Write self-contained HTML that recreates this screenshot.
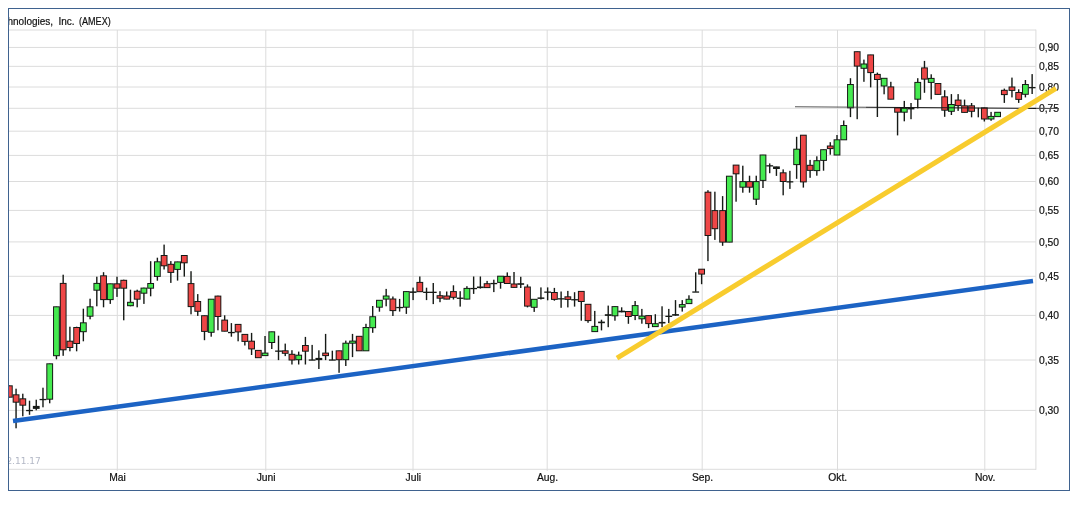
<!DOCTYPE html><html><head><meta charset="utf-8"><title>Chart</title><style>html,body{margin:0;padding:0;background:#fff}body{width:1079px;height:509px;overflow:hidden}svg{display:block}text{font-family:"Liberation Sans",Arial,sans-serif}</style></head><body>
<svg width="1079" height="509" viewBox="0 0 1079 509">
<rect x="0" y="0" width="1079" height="509" fill="#fff"/>
<rect x="8.5" y="8.5" width="1061" height="482" fill="#fff" stroke="#3f628f" stroke-width="1"/>
<path d="M9 47.45H1036M9 66.35H1036M9 87.0H1036M9 108.3H1036M9 131.2H1036M9 155.4H1036M9 181.5H1036M9 210.4H1036M9 241.9H1036M9 276.3H1036M9 315.4H1036M9 360.0H1036M9 410.4H1036M9 469.3H1036M117.3 30V471M265.8 30V471M413.0 30V471M547.2 30V471M702.2 30V471M837.5 30V471M984.8 30V471M1035.9 29.6V469.8" stroke="#dcdcdc" stroke-width="1" fill="none"/>
<path d="M9 30H1036" stroke="#dcdcdc" stroke-width="1"/>
<clipPath id="c"><rect x="9" y="9" width="1060" height="481"/></clipPath>
<text y="25" font-size="10" fill="#111" stroke="#111" stroke-width="0.2" clip-path="url(#c)"><tspan x="7.5">hnologies,</tspan> <tspan x="58.4" textLength="16.1" lengthAdjust="spacingAndGlyphs">Inc.</tspan> <tspan x="79" textLength="31.7" lengthAdjust="spacingAndGlyphs">(AMEX)</tspan></text>
<text x="6.4" y="463.8" font-size="9" style="font-family:'DejaVu Sans',Verdana,sans-serif" fill="#b3b8c6" clip-path="url(#c)">2.11.17</text>
<text x="1039" y="51.2" font-size="10.3" fill="#111" stroke="#111" stroke-width="0.2">0,90</text>
<text x="1039" y="70.0" font-size="10.3" fill="#111" stroke="#111" stroke-width="0.2">0,85</text>
<text x="1039" y="90.7" font-size="10.3" fill="#111" stroke="#111" stroke-width="0.2">0,80</text>
<text x="1039" y="112.0" font-size="10.3" fill="#111" stroke="#111" stroke-width="0.2">0,75</text>
<text x="1039" y="134.9" font-size="10.3" fill="#111" stroke="#111" stroke-width="0.2">0,70</text>
<text x="1039" y="159.1" font-size="10.3" fill="#111" stroke="#111" stroke-width="0.2">0,65</text>
<text x="1039" y="185.2" font-size="10.3" fill="#111" stroke="#111" stroke-width="0.2">0,60</text>
<text x="1039" y="214.1" font-size="10.3" fill="#111" stroke="#111" stroke-width="0.2">0,55</text>
<text x="1039" y="245.6" font-size="10.3" fill="#111" stroke="#111" stroke-width="0.2">0,50</text>
<text x="1039" y="280.0" font-size="10.3" fill="#111" stroke="#111" stroke-width="0.2">0,45</text>
<text x="1039" y="319.1" font-size="10.3" fill="#111" stroke="#111" stroke-width="0.2">0,40</text>
<text x="1039" y="363.7" font-size="10.3" fill="#111" stroke="#111" stroke-width="0.2">0,35</text>
<text x="1039" y="414.1" font-size="10.3" fill="#111" stroke="#111" stroke-width="0.2">0,30</text>
<text x="117.6" y="480.9" font-size="10.3" fill="#111" stroke="#111" stroke-width="0.2" text-anchor="middle">Mai</text>
<text x="266.1" y="480.9" font-size="10.3" fill="#111" stroke="#111" stroke-width="0.2" text-anchor="middle">Juni</text>
<text x="413.3" y="480.9" font-size="10.3" fill="#111" stroke="#111" stroke-width="0.2" text-anchor="middle">Juli</text>
<text x="547.5" y="480.9" font-size="10.3" fill="#111" stroke="#111" stroke-width="0.2" text-anchor="middle">Aug.</text>
<text x="702.5" y="480.9" font-size="10.3" fill="#111" stroke="#111" stroke-width="0.2" text-anchor="middle">Sep.</text>
<text x="837.8" y="480.9" font-size="10.3" fill="#111" stroke="#111" stroke-width="0.2" text-anchor="middle">Okt.</text>
<text x="985.0999999999999" y="480.9" font-size="10.3" fill="#111" stroke="#111" stroke-width="0.2" text-anchor="middle">Nov.</text>
<g clip-path="url(#c)"><rect x="8.64" y="385.7" width="1.4" height="11.6" fill="#161a16"/><rect x="5.94" y="385.3" width="6.8" height="12.4" fill="#161a16"/><rect x="6.94" y="386.3" width="4.8" height="10.4" fill="#ee4646"/><rect x="15.36" y="388.7" width="1.4" height="39.6" fill="#161a16"/><rect x="12.66" y="394.3" width="6.8" height="8.4" fill="#161a16"/><rect x="13.66" y="395.3" width="4.8" height="6.4" fill="#ee4646"/><rect x="22.09" y="393.7" width="1.4" height="22.6" fill="#161a16"/><rect x="19.39" y="398.3" width="6.8" height="7.4" fill="#161a16"/><rect x="20.39" y="399.3" width="4.8" height="5.4" fill="#ee4646"/><rect x="28.82" y="400.7" width="1.4" height="14.1" fill="#161a16"/><rect x="26.12" y="409.9" width="6.8" height="1.3" fill="#161a16"/><rect x="35.55" y="399.7" width="1.4" height="10.6" fill="#161a16"/><rect x="32.85" y="405.9" width="6.8" height="3.0" fill="#161a16"/><rect x="42.28" y="387.7" width="1.4" height="19.6" fill="#161a16"/><rect x="39.58" y="398.9" width="6.8" height="1.3" fill="#161a16"/><rect x="49.01" y="363.7" width="1.4" height="39.6" fill="#161a16"/><rect x="46.31" y="363.3" width="6.8" height="36.4" fill="#161a16"/><rect x="47.31" y="364.3" width="4.8" height="34.4" fill="#45ea50"/><rect x="55.74" y="306.7" width="1.4" height="52.6" fill="#161a16"/><rect x="53.04" y="306.3" width="6.8" height="49.9" fill="#161a16"/><rect x="54.04" y="307.3" width="4.8" height="47.9" fill="#45ea50"/><rect x="62.47" y="274.7" width="1.4" height="81.1" fill="#161a16"/><rect x="59.77" y="282.9" width="6.8" height="67.4" fill="#161a16"/><rect x="60.77" y="283.9" width="4.8" height="65.4" fill="#ee4646"/><rect x="69.20" y="326.7" width="1.4" height="24.6" fill="#161a16"/><rect x="66.50" y="340.7" width="6.8" height="7.3" fill="#161a16"/><rect x="67.50" y="341.7" width="4.8" height="5.3" fill="#ee4646"/><rect x="75.93" y="326.7" width="1.4" height="24.6" fill="#161a16"/><rect x="73.23" y="327.0" width="6.8" height="17.0" fill="#161a16"/><rect x="74.23" y="328.0" width="4.8" height="15.0" fill="#ee4646"/><rect x="82.65" y="308.7" width="1.4" height="32.6" fill="#161a16"/><rect x="79.95" y="322.3" width="6.8" height="9.9" fill="#161a16"/><rect x="80.95" y="323.3" width="4.8" height="7.9" fill="#45ea50"/><rect x="89.38" y="298.7" width="1.4" height="20.6" fill="#161a16"/><rect x="86.68" y="306.3" width="6.8" height="10.4" fill="#161a16"/><rect x="87.68" y="307.3" width="4.8" height="8.4" fill="#45ea50"/><rect x="96.11" y="276.7" width="1.4" height="29.6" fill="#161a16"/><rect x="93.41" y="282.9" width="6.8" height="7.8" fill="#161a16"/><rect x="94.41" y="283.9" width="4.8" height="5.8" fill="#45ea50"/><rect x="102.84" y="272.2" width="1.4" height="35.1" fill="#161a16"/><rect x="100.14" y="275.3" width="6.8" height="24.8" fill="#161a16"/><rect x="101.14" y="276.3" width="4.8" height="22.8" fill="#ee4646"/><rect x="109.57" y="283.7" width="1.4" height="20.2" fill="#161a16"/><rect x="106.87" y="283.3" width="6.8" height="16.8" fill="#161a16"/><rect x="107.87" y="284.3" width="4.8" height="14.8" fill="#45ea50"/><rect x="116.30" y="276.7" width="1.4" height="20.2" fill="#161a16"/><rect x="113.60" y="283.3" width="6.8" height="5.4" fill="#161a16"/><rect x="114.60" y="284.3" width="4.8" height="3.4" fill="#ee4646"/><rect x="123.03" y="279.7" width="1.4" height="40.6" fill="#161a16"/><rect x="120.33" y="279.8" width="6.8" height="8.9" fill="#161a16"/><rect x="121.33" y="280.8" width="4.8" height="6.9" fill="#ee4646"/><rect x="129.76" y="289.7" width="1.4" height="16.6" fill="#161a16"/><rect x="127.06" y="301.8" width="6.8" height="4.4" fill="#161a16"/><rect x="128.06" y="302.8" width="4.8" height="2.4" fill="#45ea50"/><rect x="136.49" y="289.7" width="1.4" height="17.6" fill="#161a16"/><rect x="133.79" y="290.7" width="6.8" height="9.0" fill="#161a16"/><rect x="134.79" y="291.7" width="4.8" height="7.0" fill="#ee4646"/><rect x="143.22" y="287.7" width="1.4" height="16.2" fill="#161a16"/><rect x="140.52" y="287.6" width="6.8" height="6.1" fill="#161a16"/><rect x="141.52" y="288.6" width="4.8" height="4.1" fill="#45ea50"/><rect x="149.95" y="261.2" width="1.4" height="35.1" fill="#161a16"/><rect x="147.25" y="283.0" width="6.8" height="5.7" fill="#161a16"/><rect x="148.25" y="284.0" width="4.8" height="3.7" fill="#45ea50"/><rect x="156.67" y="257.7" width="1.4" height="23.0" fill="#161a16"/><rect x="153.97" y="261.3" width="6.8" height="15.6" fill="#161a16"/><rect x="154.97" y="262.3" width="4.8" height="13.6" fill="#45ea50"/><rect x="163.40" y="244.6" width="1.4" height="24.9" fill="#161a16"/><rect x="160.70" y="255.0" width="6.8" height="11.3" fill="#161a16"/><rect x="161.70" y="256.0" width="4.8" height="9.3" fill="#ee4646"/><rect x="170.13" y="261.1" width="1.4" height="21.8" fill="#161a16"/><rect x="167.43" y="263.8" width="6.8" height="9.1" fill="#161a16"/><rect x="168.43" y="264.8" width="4.8" height="7.1" fill="#ee4646"/><rect x="176.86" y="261.7" width="1.4" height="18.9" fill="#161a16"/><rect x="174.16" y="261.4" width="6.8" height="8.5" fill="#161a16"/><rect x="175.16" y="262.4" width="4.8" height="6.5" fill="#45ea50"/><rect x="183.59" y="255.4" width="1.4" height="21.2" fill="#161a16"/><rect x="180.89" y="255.0" width="6.8" height="8.3" fill="#161a16"/><rect x="181.89" y="256.0" width="4.8" height="6.3" fill="#ee4646"/><rect x="190.32" y="271.2" width="1.4" height="43.1" fill="#161a16"/><rect x="187.62" y="283.1" width="6.8" height="24.0" fill="#161a16"/><rect x="188.62" y="284.1" width="4.8" height="22.0" fill="#ee4646"/><rect x="197.05" y="294.1" width="1.4" height="21.8" fill="#161a16"/><rect x="194.35" y="301.0" width="6.8" height="10.8" fill="#161a16"/><rect x="195.35" y="302.0" width="4.8" height="8.8" fill="#ee4646"/><rect x="203.78" y="315.6" width="1.4" height="24.6" fill="#161a16"/><rect x="201.08" y="315.2" width="6.8" height="16.7" fill="#161a16"/><rect x="202.08" y="316.2" width="4.8" height="14.7" fill="#ee4646"/><rect x="210.51" y="299.1" width="1.4" height="37.6" fill="#161a16"/><rect x="207.81" y="298.7" width="6.8" height="34.1" fill="#161a16"/><rect x="208.81" y="299.7" width="4.8" height="32.1" fill="#45ea50"/><rect x="217.24" y="295.7" width="1.4" height="34.6" fill="#161a16"/><rect x="214.53" y="295.6" width="6.8" height="21.4" fill="#161a16"/><rect x="215.53" y="296.6" width="4.8" height="19.4" fill="#ee4646"/><rect x="223.96" y="315.3" width="1.4" height="16.0" fill="#161a16"/><rect x="221.26" y="319.6" width="6.8" height="12.1" fill="#161a16"/><rect x="222.26" y="320.6" width="4.8" height="10.1" fill="#ee4646"/><rect x="230.69" y="323.1" width="1.4" height="13.6" fill="#161a16"/><rect x="227.99" y="331.9" width="6.8" height="1.3" fill="#161a16"/><rect x="237.42" y="324.3" width="1.4" height="17.0" fill="#161a16"/><rect x="234.72" y="323.9" width="6.8" height="8.5" fill="#161a16"/><rect x="235.72" y="324.9" width="4.8" height="6.5" fill="#ee4646"/><rect x="244.15" y="334.3" width="1.4" height="11.2" fill="#161a16"/><rect x="241.45" y="333.9" width="6.8" height="8.0" fill="#161a16"/><rect x="242.45" y="334.9" width="4.8" height="6.0" fill="#ee4646"/><rect x="250.88" y="332.9" width="1.4" height="22.1" fill="#161a16"/><rect x="248.18" y="340.7" width="6.8" height="8.7" fill="#161a16"/><rect x="249.18" y="341.7" width="4.8" height="6.7" fill="#ee4646"/><rect x="257.61" y="350.3" width="1.4" height="7.5" fill="#161a16"/><rect x="254.91" y="349.9" width="6.8" height="8.3" fill="#161a16"/><rect x="255.91" y="350.9" width="4.8" height="6.3" fill="#ee4646"/><rect x="264.34" y="336.0" width="1.4" height="19.7" fill="#161a16"/><rect x="261.64" y="352.6" width="6.8" height="3.5" fill="#161a16"/><rect x="262.64" y="353.6" width="4.8" height="1.5" fill="#45ea50"/><rect x="271.07" y="331.7" width="1.4" height="17.3" fill="#161a16"/><rect x="268.37" y="331.3" width="6.8" height="11.7" fill="#161a16"/><rect x="269.37" y="332.3" width="4.8" height="9.7" fill="#45ea50"/><rect x="277.80" y="335.7" width="1.4" height="24.4" fill="#161a16"/><rect x="275.10" y="350.5" width="6.8" height="1.3" fill="#161a16"/><rect x="284.53" y="343.6" width="1.4" height="12.5" fill="#161a16"/><rect x="281.83" y="350.3" width="6.8" height="3.5" fill="#161a16"/><rect x="282.83" y="351.3" width="4.8" height="1.5" fill="#ee4646"/><rect x="291.25" y="350.2" width="1.4" height="14.3" fill="#161a16"/><rect x="288.55" y="353.8" width="6.8" height="6.7" fill="#161a16"/><rect x="289.55" y="354.8" width="4.8" height="4.7" fill="#ee4646"/><rect x="297.98" y="351.6" width="1.4" height="12.9" fill="#161a16"/><rect x="295.28" y="354.7" width="6.8" height="5.5" fill="#161a16"/><rect x="296.28" y="355.7" width="4.8" height="3.5" fill="#45ea50"/><rect x="304.71" y="336.9" width="1.4" height="27.6" fill="#161a16"/><rect x="302.01" y="345.0" width="6.8" height="6.7" fill="#161a16"/><rect x="303.01" y="346.0" width="4.8" height="4.7" fill="#ee4646"/><rect x="311.44" y="344.9" width="1.4" height="15.2" fill="#161a16"/><rect x="308.74" y="359.4" width="6.8" height="1.3" fill="#161a16"/><rect x="318.17" y="350.3" width="1.4" height="18.7" fill="#161a16"/><rect x="315.47" y="357.9" width="6.8" height="2.2" fill="#161a16"/><rect x="324.90" y="333.9" width="1.4" height="26.2" fill="#161a16"/><rect x="322.20" y="352.6" width="6.8" height="3.5" fill="#161a16"/><rect x="323.20" y="353.6" width="4.8" height="1.5" fill="#ee4646"/><rect x="331.63" y="350.7" width="1.4" height="9.4" fill="#161a16"/><rect x="328.93" y="359.4" width="6.8" height="1.3" fill="#161a16"/><rect x="338.36" y="350.7" width="1.4" height="22.1" fill="#161a16"/><rect x="335.66" y="350.3" width="6.8" height="9.9" fill="#161a16"/><rect x="336.66" y="351.3" width="4.8" height="7.9" fill="#ee4646"/><rect x="345.09" y="340.6" width="1.4" height="25.4" fill="#161a16"/><rect x="342.39" y="342.7" width="6.8" height="17.5" fill="#161a16"/><rect x="343.39" y="343.7" width="4.8" height="15.5" fill="#45ea50"/><rect x="351.81" y="333.9" width="1.4" height="23.2" fill="#161a16"/><rect x="349.12" y="340.6" width="6.8" height="3.1" fill="#161a16"/><rect x="350.12" y="341.6" width="4.8" height="1.1" fill="#45ea50"/><rect x="358.54" y="336.2" width="1.4" height="14.7" fill="#161a16"/><rect x="355.84" y="335.8" width="6.8" height="15.5" fill="#161a16"/><rect x="356.84" y="336.8" width="4.8" height="13.5" fill="#ee4646"/><rect x="365.27" y="323.8" width="1.4" height="27.1" fill="#161a16"/><rect x="362.57" y="327.0" width="6.8" height="24.3" fill="#161a16"/><rect x="363.57" y="328.0" width="4.8" height="22.3" fill="#45ea50"/><rect x="372.00" y="306.0" width="1.4" height="26.8" fill="#161a16"/><rect x="369.30" y="316.2" width="6.8" height="12.0" fill="#161a16"/><rect x="370.30" y="317.2" width="4.8" height="10.0" fill="#45ea50"/><rect x="378.73" y="300.0" width="1.4" height="11.7" fill="#161a16"/><rect x="376.03" y="299.8" width="6.8" height="7.9" fill="#161a16"/><rect x="377.03" y="300.8" width="4.8" height="5.9" fill="#45ea50"/><rect x="385.46" y="288.9" width="1.4" height="17.4" fill="#161a16"/><rect x="382.76" y="295.5" width="6.8" height="4.1" fill="#161a16"/><rect x="383.76" y="296.5" width="4.8" height="2.1" fill="#45ea50"/><rect x="392.19" y="296.5" width="1.4" height="19.5" fill="#161a16"/><rect x="389.49" y="298.5" width="6.8" height="12.6" fill="#161a16"/><rect x="390.49" y="299.5" width="4.8" height="10.6" fill="#ee4646"/><rect x="398.92" y="298.9" width="1.4" height="12.7" fill="#161a16"/><rect x="396.22" y="306.9" width="6.8" height="1.3" fill="#161a16"/><rect x="405.65" y="291.5" width="1.4" height="22.4" fill="#161a16"/><rect x="402.95" y="291.1" width="6.8" height="16.6" fill="#161a16"/><rect x="403.95" y="292.1" width="4.8" height="14.6" fill="#45ea50"/><rect x="412.38" y="287.6" width="1.4" height="12.5" fill="#161a16"/><rect x="409.68" y="291.4" width="6.8" height="1.5" fill="#161a16"/><rect x="419.11" y="276.5" width="1.4" height="15.3" fill="#161a16"/><rect x="416.41" y="281.9" width="6.8" height="10.3" fill="#161a16"/><rect x="417.41" y="282.9" width="4.8" height="8.3" fill="#ee4646"/><rect x="425.83" y="287.7" width="1.4" height="12.4" fill="#161a16"/><rect x="423.13" y="291.7" width="6.8" height="1.3" fill="#161a16"/><rect x="432.56" y="283.0" width="1.4" height="21.1" fill="#161a16"/><rect x="429.86" y="291.7" width="6.8" height="1.3" fill="#161a16"/><rect x="439.29" y="291.2" width="1.4" height="11.0" fill="#161a16"/><rect x="436.59" y="295.2" width="6.8" height="3.5" fill="#161a16"/><rect x="437.59" y="296.2" width="4.8" height="1.5" fill="#ee4646"/><rect x="446.02" y="291.5" width="1.4" height="7.8" fill="#161a16"/><rect x="443.32" y="295.5" width="6.8" height="4.1" fill="#161a16"/><rect x="444.32" y="296.5" width="4.8" height="2.1" fill="#ee4646"/><rect x="452.75" y="285.3" width="1.4" height="14.2" fill="#161a16"/><rect x="450.05" y="291.1" width="6.8" height="6.7" fill="#161a16"/><rect x="451.05" y="292.1" width="4.8" height="4.7" fill="#ee4646"/><rect x="459.48" y="291.2" width="1.4" height="15.4" fill="#161a16"/><rect x="456.78" y="297.6" width="6.8" height="1.3" fill="#161a16"/><rect x="466.21" y="286.2" width="1.4" height="13.1" fill="#161a16"/><rect x="463.51" y="287.9" width="6.8" height="11.7" fill="#161a16"/><rect x="464.51" y="288.9" width="4.8" height="9.7" fill="#45ea50"/><rect x="472.94" y="276.5" width="1.4" height="17.4" fill="#161a16"/><rect x="470.24" y="287.9" width="6.8" height="1.3" fill="#161a16"/><rect x="479.67" y="276.5" width="1.4" height="12.1" fill="#161a16"/><rect x="476.97" y="286.5" width="6.8" height="1.6" fill="#161a16"/><rect x="486.40" y="280.9" width="1.4" height="6.8" fill="#161a16"/><rect x="483.70" y="283.2" width="6.8" height="4.9" fill="#161a16"/><rect x="484.70" y="284.2" width="4.8" height="2.9" fill="#ee4646"/><rect x="493.12" y="279.7" width="1.4" height="12.4" fill="#161a16"/><rect x="490.42" y="282.9" width="6.8" height="1.3" fill="#161a16"/><rect x="499.85" y="276.1" width="1.4" height="12.6" fill="#161a16"/><rect x="497.15" y="275.7" width="6.8" height="7.2" fill="#161a16"/><rect x="498.15" y="276.7" width="4.8" height="5.2" fill="#45ea50"/><rect x="506.58" y="272.4" width="1.4" height="11.2" fill="#161a16"/><rect x="503.88" y="275.9" width="6.8" height="8.1" fill="#161a16"/><rect x="504.88" y="276.9" width="4.8" height="6.1" fill="#ee4646"/><rect x="513.31" y="272.0" width="1.4" height="15.5" fill="#161a16"/><rect x="510.61" y="283.5" width="6.8" height="4.4" fill="#161a16"/><rect x="511.61" y="284.5" width="4.8" height="2.4" fill="#ee4646"/><rect x="520.04" y="276.8" width="1.4" height="11.2" fill="#161a16"/><rect x="517.34" y="283.2" width="6.8" height="1.6" fill="#161a16"/><rect x="526.77" y="284.4" width="1.4" height="23.0" fill="#161a16"/><rect x="524.07" y="286.5" width="6.8" height="20.1" fill="#161a16"/><rect x="525.07" y="287.5" width="4.8" height="18.1" fill="#ee4646"/><rect x="533.50" y="299.2" width="1.4" height="12.7" fill="#161a16"/><rect x="530.80" y="298.8" width="6.8" height="9.0" fill="#161a16"/><rect x="531.80" y="299.8" width="4.8" height="7.0" fill="#45ea50"/><rect x="540.23" y="287.4" width="1.4" height="12.1" fill="#161a16"/><rect x="537.53" y="297.4" width="6.8" height="1.5" fill="#161a16"/><rect x="546.96" y="287.4" width="1.4" height="12.9" fill="#161a16"/><rect x="544.26" y="291.5" width="6.8" height="1.3" fill="#161a16"/><rect x="553.68" y="287.9" width="1.4" height="12.8" fill="#161a16"/><rect x="550.99" y="292.0" width="6.8" height="7.9" fill="#161a16"/><rect x="551.99" y="293.0" width="4.8" height="5.9" fill="#ee4646"/><rect x="560.41" y="291.5" width="1.4" height="16.3" fill="#161a16"/><rect x="557.71" y="298.2" width="6.8" height="1.3" fill="#161a16"/><rect x="567.14" y="290.9" width="1.4" height="16.5" fill="#161a16"/><rect x="564.44" y="296.3" width="6.8" height="3.6" fill="#161a16"/><rect x="565.44" y="297.3" width="4.8" height="1.6" fill="#ee4646"/><rect x="573.87" y="292.2" width="1.4" height="14.4" fill="#161a16"/><rect x="571.17" y="299.1" width="6.8" height="1.3" fill="#161a16"/><rect x="580.60" y="291.3" width="1.4" height="29.4" fill="#161a16"/><rect x="577.90" y="290.9" width="6.8" height="11.1" fill="#161a16"/><rect x="578.90" y="291.9" width="4.8" height="9.1" fill="#ee4646"/><rect x="587.33" y="304.2" width="1.4" height="18.6" fill="#161a16"/><rect x="584.63" y="303.8" width="6.8" height="17.3" fill="#161a16"/><rect x="585.63" y="304.8" width="4.8" height="15.3" fill="#ee4646"/><rect x="594.06" y="310.9" width="1.4" height="20.8" fill="#161a16"/><rect x="591.36" y="325.9" width="6.8" height="6.2" fill="#161a16"/><rect x="592.36" y="326.9" width="4.8" height="4.2" fill="#45ea50"/><rect x="600.79" y="319.7" width="1.4" height="10.7" fill="#161a16"/><rect x="598.09" y="321.6" width="6.8" height="1.6" fill="#161a16"/><rect x="607.52" y="305.6" width="1.4" height="21.6" fill="#161a16"/><rect x="604.82" y="314.2" width="6.8" height="1.7" fill="#161a16"/><rect x="614.25" y="306.5" width="1.4" height="14.2" fill="#161a16"/><rect x="611.55" y="306.1" width="6.8" height="10.2" fill="#161a16"/><rect x="612.55" y="307.1" width="4.8" height="8.2" fill="#45ea50"/><rect x="620.97" y="307.3" width="1.4" height="5.0" fill="#161a16"/><rect x="618.27" y="310.7" width="6.8" height="1.6" fill="#161a16"/><rect x="627.70" y="311.4" width="1.4" height="12.4" fill="#161a16"/><rect x="625.00" y="311.0" width="6.8" height="6.0" fill="#161a16"/><rect x="626.00" y="312.0" width="4.8" height="4.0" fill="#ee4646"/><rect x="634.43" y="301.0" width="1.4" height="19.1" fill="#161a16"/><rect x="631.73" y="305.1" width="6.8" height="10.9" fill="#161a16"/><rect x="632.73" y="306.1" width="4.8" height="8.9" fill="#45ea50"/><rect x="641.16" y="308.9" width="1.4" height="14.8" fill="#161a16"/><rect x="638.46" y="315.6" width="6.8" height="3.7" fill="#161a16"/><rect x="639.46" y="316.6" width="4.8" height="1.7" fill="#45ea50"/><rect x="647.89" y="315.5" width="1.4" height="12.6" fill="#161a16"/><rect x="645.19" y="315.1" width="6.8" height="9.0" fill="#161a16"/><rect x="646.19" y="316.1" width="4.8" height="7.0" fill="#ee4646"/><rect x="654.62" y="314.2" width="1.4" height="12.5" fill="#161a16"/><rect x="651.92" y="323.2" width="6.8" height="3.9" fill="#161a16"/><rect x="652.92" y="324.2" width="4.8" height="1.9" fill="#45ea50"/><rect x="661.35" y="306.3" width="1.4" height="20.9" fill="#161a16"/><rect x="658.65" y="321.9" width="6.8" height="1.6" fill="#161a16"/><rect x="668.08" y="308.9" width="1.4" height="14.2" fill="#161a16"/><rect x="665.38" y="315.7" width="6.8" height="1.3" fill="#161a16"/><rect x="674.81" y="300.1" width="1.4" height="15.6" fill="#161a16"/><rect x="672.11" y="314.1" width="6.8" height="1.6" fill="#161a16"/><rect x="681.54" y="300.1" width="1.4" height="11.5" fill="#161a16"/><rect x="678.84" y="304.1" width="6.8" height="3.5" fill="#161a16"/><rect x="679.84" y="305.1" width="4.8" height="1.5" fill="#45ea50"/><rect x="688.26" y="295.3" width="1.4" height="8.4" fill="#161a16"/><rect x="685.57" y="298.8" width="6.8" height="5.3" fill="#161a16"/><rect x="686.57" y="299.8" width="4.8" height="3.3" fill="#45ea50"/><rect x="694.99" y="272.3" width="1.4" height="19.5" fill="#161a16"/><rect x="692.29" y="291.4" width="6.8" height="1.3" fill="#161a16"/><rect x="700.92" y="269.1" width="1.4" height="15.1" fill="#161a16"/><rect x="698.22" y="268.7" width="6.8" height="5.9" fill="#161a16"/><rect x="699.22" y="269.7" width="4.8" height="3.9" fill="#ee4646"/><rect x="707.25" y="190.2" width="1.4" height="70.9" fill="#161a16"/><rect x="704.55" y="191.7" width="6.8" height="44.3" fill="#161a16"/><rect x="705.55" y="192.7" width="4.8" height="42.3" fill="#ee4646"/><rect x="714.18" y="191.7" width="1.4" height="48.2" fill="#161a16"/><rect x="711.48" y="210.1" width="6.8" height="19.1" fill="#161a16"/><rect x="712.48" y="211.1" width="4.8" height="17.1" fill="#ee4646"/><rect x="721.91" y="196.1" width="1.4" height="49.7" fill="#161a16"/><rect x="719.21" y="210.1" width="6.8" height="32.5" fill="#161a16"/><rect x="720.21" y="211.1" width="4.8" height="30.5" fill="#ee4646"/><rect x="728.64" y="176.1" width="1.4" height="66.1" fill="#161a16"/><rect x="725.94" y="175.7" width="6.8" height="66.9" fill="#161a16"/><rect x="726.94" y="176.7" width="4.8" height="64.9" fill="#45ea50"/><rect x="735.37" y="165.0" width="1.4" height="36.7" fill="#161a16"/><rect x="732.67" y="164.6" width="6.8" height="9.7" fill="#161a16"/><rect x="733.67" y="165.6" width="4.8" height="7.7" fill="#ee4646"/><rect x="742.10" y="165.7" width="1.4" height="27.0" fill="#161a16"/><rect x="739.40" y="181.1" width="6.8" height="6.6" fill="#161a16"/><rect x="740.40" y="182.1" width="4.8" height="4.6" fill="#45ea50"/><rect x="748.83" y="175.7" width="1.4" height="17.0" fill="#161a16"/><rect x="746.13" y="181.1" width="6.8" height="6.6" fill="#161a16"/><rect x="747.13" y="182.1" width="4.8" height="4.6" fill="#ee4646"/><rect x="755.55" y="175.7" width="1.4" height="29.3" fill="#161a16"/><rect x="752.86" y="181.1" width="6.8" height="18.6" fill="#161a16"/><rect x="753.86" y="182.1" width="4.8" height="16.6" fill="#45ea50"/><rect x="762.28" y="154.9" width="1.4" height="33.1" fill="#161a16"/><rect x="759.58" y="154.5" width="6.8" height="26.4" fill="#161a16"/><rect x="760.58" y="155.5" width="4.8" height="24.4" fill="#45ea50"/><rect x="769.01" y="163.4" width="1.4" height="9.8" fill="#161a16"/><rect x="766.31" y="165.2" width="6.8" height="1.3" fill="#161a16"/><rect x="775.74" y="166.7" width="1.4" height="9.2" fill="#161a16"/><rect x="773.04" y="166.4" width="6.8" height="2.6" fill="#161a16"/><rect x="782.47" y="169.4" width="1.4" height="25.9" fill="#161a16"/><rect x="779.77" y="172.3" width="6.8" height="9.7" fill="#161a16"/><rect x="780.77" y="173.3" width="4.8" height="7.7" fill="#ee4646"/><rect x="789.20" y="170.8" width="1.4" height="18.1" fill="#161a16"/><rect x="786.50" y="181.2" width="6.8" height="1.3" fill="#161a16"/><rect x="795.93" y="136.8" width="1.4" height="42.0" fill="#161a16"/><rect x="793.23" y="148.7" width="6.8" height="16.4" fill="#161a16"/><rect x="794.23" y="149.7" width="4.8" height="14.4" fill="#45ea50"/><rect x="802.66" y="135.1" width="1.4" height="52.5" fill="#161a16"/><rect x="799.96" y="134.7" width="6.8" height="47.7" fill="#161a16"/><rect x="800.96" y="135.7" width="4.8" height="45.7" fill="#ee4646"/><rect x="809.39" y="159.9" width="1.4" height="17.9" fill="#161a16"/><rect x="806.69" y="164.8" width="6.8" height="6.1" fill="#161a16"/><rect x="807.69" y="165.8" width="4.8" height="4.1" fill="#ee4646"/><rect x="816.12" y="156.3" width="1.4" height="19.4" fill="#161a16"/><rect x="813.42" y="160.2" width="6.8" height="10.9" fill="#161a16"/><rect x="814.42" y="161.2" width="4.8" height="8.9" fill="#45ea50"/><rect x="822.84" y="149.6" width="1.4" height="21.1" fill="#161a16"/><rect x="820.14" y="149.2" width="6.8" height="11.7" fill="#161a16"/><rect x="821.14" y="150.2" width="4.8" height="9.7" fill="#45ea50"/><rect x="829.57" y="142.2" width="1.4" height="12.5" fill="#161a16"/><rect x="826.87" y="145.5" width="6.8" height="3.6" fill="#161a16"/><rect x="827.87" y="146.5" width="4.8" height="1.6" fill="#ee4646"/><rect x="836.30" y="135.0" width="1.4" height="20.1" fill="#161a16"/><rect x="833.60" y="139.3" width="6.8" height="16.2" fill="#161a16"/><rect x="834.60" y="140.3" width="4.8" height="14.2" fill="#45ea50"/><rect x="843.03" y="120.5" width="1.4" height="19.4" fill="#161a16"/><rect x="840.33" y="125.0" width="6.8" height="15.3" fill="#161a16"/><rect x="841.33" y="126.0" width="4.8" height="13.3" fill="#45ea50"/><rect x="849.76" y="78.2" width="1.4" height="38.9" fill="#161a16"/><rect x="847.06" y="84.0" width="6.8" height="24.3" fill="#161a16"/><rect x="848.06" y="85.0" width="4.8" height="22.3" fill="#45ea50"/><rect x="856.49" y="51.6" width="1.4" height="67.6" fill="#161a16"/><rect x="853.79" y="51.2" width="6.8" height="15.4" fill="#161a16"/><rect x="854.79" y="52.2" width="4.8" height="13.4" fill="#ee4646"/><rect x="863.22" y="59.6" width="1.4" height="22.2" fill="#161a16"/><rect x="860.52" y="63.5" width="6.8" height="5.3" fill="#161a16"/><rect x="861.52" y="64.5" width="4.8" height="3.3" fill="#45ea50"/><rect x="869.95" y="54.8" width="1.4" height="32.6" fill="#161a16"/><rect x="867.25" y="54.4" width="6.8" height="18.7" fill="#161a16"/><rect x="868.25" y="55.4" width="4.8" height="16.7" fill="#ee4646"/><rect x="876.68" y="72.6" width="1.4" height="44.4" fill="#161a16"/><rect x="873.98" y="73.9" width="6.8" height="6.1" fill="#161a16"/><rect x="874.98" y="74.9" width="4.8" height="4.1" fill="#ee4646"/><rect x="883.41" y="78.2" width="1.4" height="16.1" fill="#161a16"/><rect x="880.71" y="77.8" width="6.8" height="8.7" fill="#161a16"/><rect x="881.71" y="78.8" width="4.8" height="6.7" fill="#45ea50"/><rect x="890.13" y="81.8" width="1.4" height="17.5" fill="#161a16"/><rect x="887.44" y="86.4" width="6.8" height="13.3" fill="#161a16"/><rect x="888.44" y="87.4" width="4.8" height="11.3" fill="#ee4646"/><rect x="896.86" y="107.7" width="1.4" height="27.7" fill="#161a16"/><rect x="894.16" y="107.4" width="6.8" height="5.3" fill="#161a16"/><rect x="895.16" y="108.4" width="4.8" height="3.3" fill="#ee4646"/><rect x="903.59" y="100.9" width="1.4" height="20.4" fill="#161a16"/><rect x="900.89" y="107.8" width="6.8" height="4.9" fill="#161a16"/><rect x="901.89" y="108.8" width="4.8" height="2.9" fill="#45ea50"/><rect x="910.32" y="103.0" width="1.4" height="16.2" fill="#161a16"/><rect x="907.62" y="107.8" width="6.8" height="1.6" fill="#161a16"/><rect x="917.05" y="78.2" width="1.4" height="30.2" fill="#161a16"/><rect x="914.35" y="81.9" width="6.8" height="17.8" fill="#161a16"/><rect x="915.35" y="82.9" width="4.8" height="15.8" fill="#45ea50"/><rect x="923.78" y="60.9" width="1.4" height="31.9" fill="#161a16"/><rect x="921.08" y="67.4" width="6.8" height="12.2" fill="#161a16"/><rect x="922.08" y="68.4" width="4.8" height="10.2" fill="#ee4646"/><rect x="930.51" y="74.3" width="1.4" height="25.1" fill="#161a16"/><rect x="927.81" y="77.9" width="6.8" height="5.0" fill="#161a16"/><rect x="928.81" y="78.9" width="4.8" height="3.0" fill="#45ea50"/><rect x="937.24" y="83.4" width="1.4" height="11.1" fill="#161a16"/><rect x="934.54" y="83.0" width="6.8" height="11.9" fill="#161a16"/><rect x="935.54" y="84.0" width="4.8" height="9.9" fill="#ee4646"/><rect x="943.97" y="90.2" width="1.4" height="26.6" fill="#161a16"/><rect x="941.27" y="96.3" width="6.8" height="14.4" fill="#161a16"/><rect x="942.27" y="97.3" width="4.8" height="12.4" fill="#ee4646"/><rect x="950.70" y="94.1" width="1.4" height="20.9" fill="#161a16"/><rect x="948.00" y="104.0" width="6.8" height="7.8" fill="#161a16"/><rect x="949.00" y="105.0" width="4.8" height="5.8" fill="#45ea50"/><rect x="957.42" y="94.1" width="1.4" height="16.8" fill="#161a16"/><rect x="954.73" y="99.6" width="6.8" height="6.5" fill="#161a16"/><rect x="955.73" y="100.6" width="4.8" height="4.5" fill="#ee4646"/><rect x="963.85" y="99.6" width="1.4" height="12.9" fill="#161a16"/><rect x="961.15" y="105.3" width="6.8" height="7.6" fill="#161a16"/><rect x="962.15" y="106.3" width="4.8" height="5.6" fill="#ee4646"/><rect x="970.88" y="103.0" width="1.4" height="14.3" fill="#161a16"/><rect x="968.18" y="105.3" width="6.8" height="6.5" fill="#161a16"/><rect x="969.18" y="106.3" width="4.8" height="4.5" fill="#ee4646"/><rect x="977.61" y="107.8" width="1.4" height="9.5" fill="#161a16"/><rect x="983.64" y="107.7" width="1.4" height="13.8" fill="#161a16"/><rect x="980.94" y="107.4" width="6.8" height="12.1" fill="#161a16"/><rect x="981.94" y="108.4" width="4.8" height="10.1" fill="#ee4646"/><rect x="990.37" y="111.9" width="1.4" height="8.9" fill="#161a16"/><rect x="987.67" y="115.9" width="6.8" height="3.6" fill="#161a16"/><rect x="988.67" y="116.9" width="4.8" height="1.6" fill="#45ea50"/><rect x="996.90" y="112.2" width="1.4" height="4.5" fill="#161a16"/><rect x="994.20" y="111.8" width="6.8" height="5.3" fill="#161a16"/><rect x="995.20" y="112.8" width="4.8" height="3.3" fill="#45ea50"/><rect x="1003.63" y="88.6" width="1.4" height="14.3" fill="#161a16"/><rect x="1000.93" y="89.8" width="6.8" height="5.3" fill="#161a16"/><rect x="1001.93" y="90.8" width="4.8" height="3.3" fill="#ee4646"/><rect x="1011.26" y="77.6" width="1.4" height="19.8" fill="#161a16"/><rect x="1008.56" y="86.5" width="6.8" height="4.4" fill="#161a16"/><rect x="1009.56" y="87.5" width="4.8" height="2.4" fill="#ee4646"/><rect x="1017.99" y="89.3" width="1.4" height="13.6" fill="#161a16"/><rect x="1015.29" y="92.0" width="6.8" height="7.9" fill="#161a16"/><rect x="1016.29" y="93.0" width="4.8" height="5.9" fill="#ee4646"/><rect x="1024.71" y="80.0" width="1.4" height="17.4" fill="#161a16"/><rect x="1022.01" y="84.0" width="6.8" height="10.8" fill="#161a16"/><rect x="1023.01" y="85.0" width="4.8" height="8.8" fill="#45ea50"/><rect x="1031.44" y="74.1" width="1.4" height="19.9" fill="#161a16"/><rect x="1028.74" y="87.0" width="6.8" height="1.3" fill="#161a16"/></g>
<path d="M795 106.75L866 107.25" stroke="#3a3a3a" stroke-width="0.85"/><path d="M866 107.25L1036 108.4" stroke="#151515" stroke-width="1.15"/><path d="M1036 108.4L1059 108.55" stroke="#555" stroke-width="1.1"/>
<path d="M13 421.1L1033 281" stroke="#1c63c4" stroke-width="4.5" stroke-linecap="butt" fill="none"/>
<path d="M617 358.1L1056 88.4" stroke="#f8cc2e" stroke-width="5" stroke-linecap="butt" fill="none"/>
</svg></body></html>
